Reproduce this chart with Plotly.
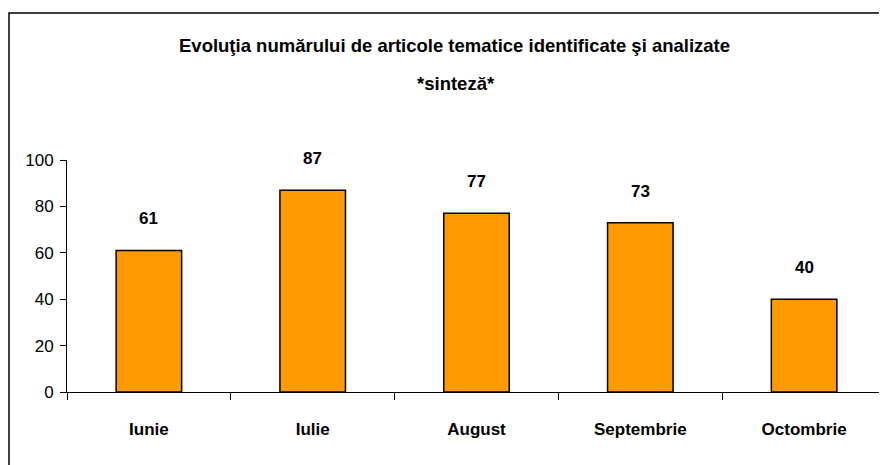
import plotly.graph_objects as go

months = ["Iunie", "Iulie", "August", "Septembrie", "Octombrie"]
counts = [61, 87, 77, 73, 40]
title_line1 = "Evoluţia numărului de articole tematice identificate şi analizate"
title_line2 = "*sinteză*"

FONT = "Liberation Sans, Arial, sans-serif"
OFF = 8  # default page body margin
W, H = 887 - OFF, 465 - OFF
L, R, T, B = 67 - OFF, 886 - OFF, 160 - OFF, 392 - OFF

def px_x(p):
    return (p - OFF - L) / (R - L)

def px_y(p):
    return (B - (p - OFF)) / (B - T)

fig = go.Figure(go.Bar(
    x=months, y=counts,
    marker=dict(color="#FF9900", line=dict(color="black", width=1.5)),
    hoverinfo="skip",
))

annotations = []
for m, v in zip(months, counts):
    annotations.append(dict(x=m, y=v, xref="x", yref="y", text=str(v), showarrow=False,
                            yanchor="bottom", yshift=20,
                            font=dict(family=FONT, size=17, color="black", weight="bold")))
annotations.append(dict(x=px_x(454), y=px_y(45), xref="paper", yref="paper", text=title_line1,
                        showarrow=False, xanchor="center", yanchor="middle",
                        font=dict(family=FONT, size=18.5, color="black", weight="bold")))
annotations.append(dict(x=px_x(456), y=px_y(83), xref="paper", yref="paper", text=title_line2,
                        showarrow=False, xanchor="center", yanchor="middle",
                        font=dict(family=FONT, size=18.5, color="black", weight="bold")))

fig.update_layout(
    width=W, height=H,
    margin=dict(l=L, r=W - R, t=T, b=H - B, pad=0, autoexpand=False),
    paper_bgcolor="white", plot_bgcolor="white",
    bargap=0.6,
    showlegend=False,
    annotations=annotations,
    shapes=[dict(type="rect", xref="paper", yref="paper",
                 x0=px_x(9), x1=px_x(900), y0=px_y(480), y1=px_y(13),
                 line=dict(color="black", width=1.5), fillcolor="rgba(0,0,0,0)", layer="below")],
    xaxis=dict(showline=True, linecolor="black", linewidth=1, ticks="outside", ticklen=7,
               tickcolor="black", tickson="boundaries", showgrid=False, zeroline=False,
               ticklabelstandoff=22, automargin=False,
               tickfont=dict(family=FONT, size=17, color="black", weight="bold")),
    yaxis=dict(range=[0, 100], dtick=20, showline=True, linecolor="black", linewidth=1,
               ticks="outside", ticklen=6, tickcolor="black", showgrid=False, zeroline=False,
               ticklabelstandoff=3, automargin=False,
               tickfont=dict(family=FONT, size=17, color="black")),
)

fig.write_html("out.html")
